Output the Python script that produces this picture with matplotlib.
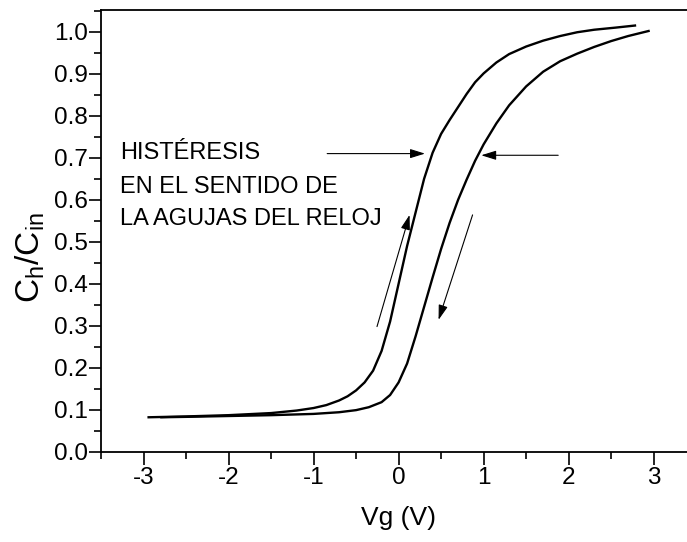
import matplotlib
matplotlib.use("Agg")
import matplotlib.pyplot as plt

plt.rcParams['font.family'] = ['Liberation Sans', 'DejaVu Sans']
plt.rcParams['mathtext.default'] = 'regular'

# forward sweep (left branch)
vg_up = [-2.94, -2.5, -2.0, -1.5, -1.2, -1.0, -0.85, -0.7, -0.6, -0.5, -0.4, -0.3,
         -0.2, -0.1, 0.0, 0.1, 0.2, 0.3, 0.4, 0.5, 0.6, 0.7, 0.8, 0.9, 1.0,
         1.15, 1.3, 1.5, 1.7, 1.9, 2.1, 2.3, 2.55, 2.78]
c_up = [0.082, 0.084, 0.087, 0.092, 0.098, 0.104, 0.111, 0.122, 0.132, 0.146, 0.165, 0.193,
        0.240, 0.310, 0.400, 0.490, 0.570, 0.650, 0.712, 0.757, 0.790, 0.821, 0.852, 0.880, 0.901,
        0.927, 0.947, 0.965, 0.979, 0.990, 0.999, 1.005, 1.010, 1.015]
# reverse sweep (right branch)
vg_down = [-2.79, -2.5, -2.0, -1.5, -1.0, -0.7, -0.5, -0.35, -0.2, -0.1, 0.0, 0.1, 0.2,
           0.3, 0.4, 0.5, 0.6, 0.7, 0.8, 0.9, 1.0, 1.15, 1.3, 1.5, 1.7, 1.9, 2.1,
           2.3, 2.5, 2.7, 2.94]
c_down = [0.082, 0.083, 0.085, 0.087, 0.090, 0.094, 0.099, 0.106, 0.118, 0.135, 0.165, 0.210, 0.275,
          0.345, 0.415, 0.483, 0.545, 0.600, 0.648, 0.693, 0.732, 0.782, 0.825, 0.870, 0.905, 0.930, 0.948,
          0.964, 0.978, 0.990, 1.002]

x_ticks = [-3, -2, -1, 0, 1, 2, 3]
y_ticks = [0.0, 0.1, 0.2, 0.3, 0.4, 0.5, 0.6, 0.7, 0.8, 0.9, 1.0]
label_lines = ["HISTÉRESIS", "EN EL SENTIDO DE", "LA AGUJAS DEL RELOJ"]
label_baselines = [0.696, 0.617, 0.541]

fig = plt.figure(figsize=(6.87, 5.42), dpi=100)
ax = fig.add_axes([101/687, (542-451.7)/542, (696.2-101)/687, (451.7-10)/542])

ax.plot(vg_up, c_up, color='black', lw=1.7, solid_joinstyle='round')
ax.plot(vg_down, c_down, color='black', lw=1.7, solid_joinstyle='round')

ax.set_xlim(-3.5, 3.5)
ax.set_ylim(0, 1.052)
ax.set_xticks(x_ticks)
ax.set_xticklabels([str(v) for v in x_ticks])
ax.set_yticks(y_ticks)
ax.set_yticklabels([f"{v:.1f}" for v in y_ticks])
ax.set_xticks([v + 0.5 for v in x_ticks[:-1]] + [-3.5], minor=True)
ax.set_yticks([v + 0.05 for v in y_ticks[:-1]] + [1.05], minor=True)
ax.tick_params(which='major', direction='out', length=9, width=1.2, labelsize=17.5, pad=0.5)
ax.tick_params(axis='x', which='major', pad=2)
ax.tick_params(which='minor', direction='out', length=5, width=1.2)
for s in ax.spines.values():
    s.set_linewidth(1.3)
ax.spines['right'].set_visible(False)

ax.set_xlabel("Vg (V)", fontsize=19, labelpad=12)
ax.set_ylabel(r"C$_{h}$/C$_{in}$", fontsize=24)
ax.yaxis.set_label_coords(-0.09, 0.44)

for line, yb in zip(label_lines, label_baselines):
    ax.text(-3.28, yb, line, fontsize=17, va='baseline', ha='left')

arrow_kw = dict(arrowstyle='-|>,head_length=0.9,head_width=0.28', color='black', lw=0.8,
                shrinkA=0, shrinkB=0)
ax.annotate('', xy=(0.31, 0.710), xytext=(-0.84, 0.710), arrowprops=arrow_kw)
ax.annotate('', xy=(0.972, 0.706), xytext=(1.877, 0.706), arrowprops=arrow_kw)
ax.annotate('', xy=(0.129, 0.564), xytext=(-0.254, 0.298), arrowprops=arrow_kw)
ax.annotate('', xy=(0.470, 0.314), xytext=(0.870, 0.564), arrowprops=arrow_kw)

fig.savefig("out.png", dpi=100)
